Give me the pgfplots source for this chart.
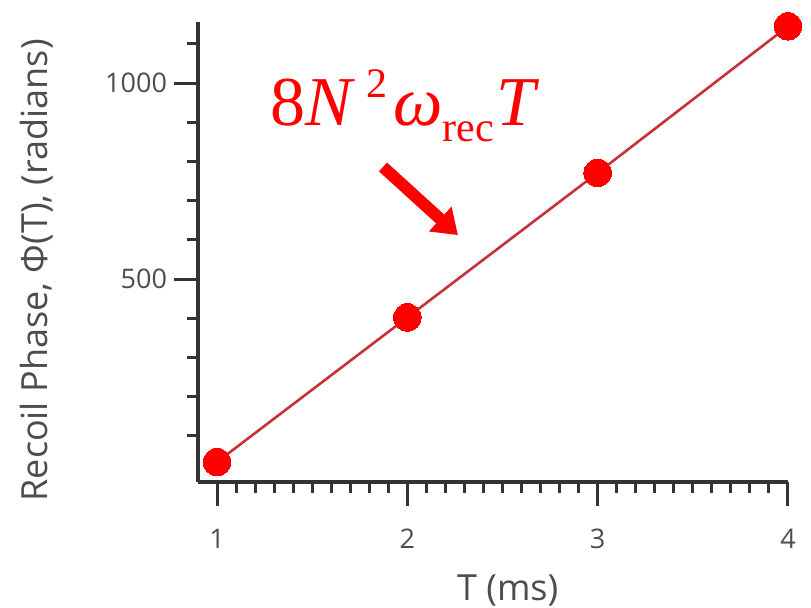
\documentclass[border=0pt]{standalone}
\usepackage{fontspec}
\setmainfont{Open Sans}
\newfontfamily\tnr{Liberation Serif}
\usepackage{pgfplots}
\pgfplotsset{compat=1.18}
\usetikzlibrary{arrows.meta}
\definecolor{axisgray}{HTML}{333333}
\definecolor{textgray}{HTML}{4D4D4D}
\definecolor{linered}{HTML}{C8303A}
\begin{document}
\begin{tikzpicture}
\begin{axis}[
  scale only axis, width=295pt, height=230pt,
  xmin=0.9, xmax=4, ymin=-18, ymax=1156,
  axis lines*=left,
  axis line style={axisgray, line width=1.6pt},
  xtick={1,2,3,4}, minor x tick num=9,
  ytick={500,1000}, minor ytick={100,200,300,400,600,700,800,900,1100},
  tick align=outside,
  major tick length=12pt, minor tick length=5.5pt,
  every tick/.style={axisgray, line width=1.5pt},
  tick label style={font=\fontsize{13.5}{13.5}\selectfont, text=textgray},
  xticklabel style={yshift=-8pt},
  /pgf/number format/assume math mode=true,
  /pgf/number format/set thousands separator={},
  xlabel={T (ms)}, ylabel={Recoil Phase, Φ(T), (radians)},
  label style={font=\fontsize{18}{18}\selectfont, text=textgray},
  xlabel style={at={(axis description cs:0.525,-0.235)}, anchor=center},
  ylabel style={at={(axis description cs:-0.273,0.46)}, anchor=center},
  clip=false,
]
\addplot[linered, line width=1.3pt, mark=*, mark size=6.9pt, mark options={fill=red, draw=red, line width=0pt}] coordinates {(1,33)(2,402)(3,771)(4,1145)};
\draw[red, line width=6pt, -{Triangle[length=12pt,width=16pt]}] (axis cs:1.872,786) -- (axis cs:2.266,612);
\node[anchor=base west, inner sep=0pt, text=red, font=\tnr\fontsize{35}{35}\selectfont] at (axis cs:1.278,893) {8\textit{N}\hspace{5.5pt}\raisebox{0.4em}{\fontsize{21}{21}\selectfont 2}\hspace{3pt}\textit{ω}\raisebox{-0.24em}{\fontsize{21}{21}\selectfont rec}\hspace{1.5pt}\textit{T}};
\end{axis}
\pgfresetboundingbox
\path[use as bounding box] (-99pt,-63pt) rectangle (306.5pt,241pt);
\end{tikzpicture}
\end{document}
